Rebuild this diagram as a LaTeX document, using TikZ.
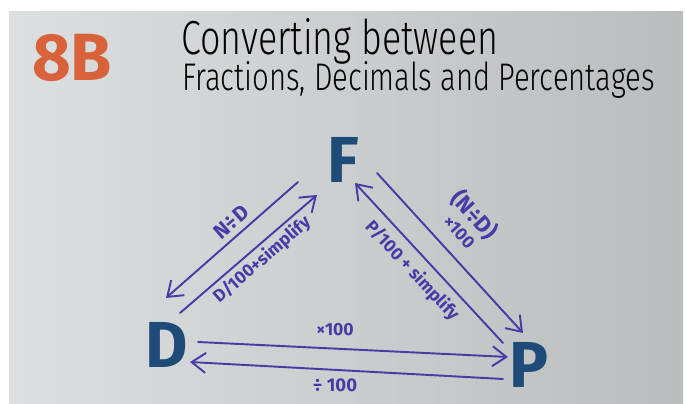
\documentclass[tikz,border=0pt]{standalone}
\usepackage{fontspec}
\setmainfont{Fira Sans}
\newfontfamily\thinfont{Fira Sans Light}
\usepackage{xcolor}
\usetikzlibrary{arrows.meta,positioning}
\definecolor{board}{HTML}{DCDFE0}
\definecolor{boarddark}{HTML}{BABDBE}
\definecolor{marker}{HTML}{4A3AA6}
\definecolor{letterblue}{HTML}{1F4B78}
\definecolor{eightb}{HTML}{D8623A}

\begin{document}
\begin{tikzpicture}[x=0.02cm,y=-0.02cm,
		conv/.style={line width=1.1pt,color=marker,line cap=round,
			-{Straight Barb[length=2.8mm,width=4mm,line width=1.1pt]}},
		lbl/.style={color=marker,inner sep=0pt,font=\bfseries\fontsize{10}{10}\selectfont},
		corner/.style={color=letterblue,inner sep=0pt,font=\bfseries\fontsize{37}{37}\selectfont}]
		
		% board
		\fill[white] (0,0) rectangle (686,404);
		\shade[left color=board,right color=boarddark] (9,12) rectangle (683,404);
		\useasboundingbox (0,0) rectangle (686,404);
		
		% heading
		\node[color=eightb,inner sep=0pt,font=\bfseries\fontsize{38}{38}\selectfont] (eightB)
		at (72,58) {8B};
		
		\node[anchor=base west,inner sep=0pt] (title1)
		at (181,55)
		{\resizebox{6.34cm}{0.72cm}{\thinfont Converting between}};
		
		\node[anchor=base west,inner sep=0pt] (title2)
		at (182,91)
		{\resizebox{9.45cm}{0.58cm}{\thinfont Fractions, Decimals and Percentages}};
		
		% corners
		\node[corner] (F) at (343,160) {F};
		\node[corner] (D) at (167,345) {D};
		\node[corner] (P) at (529,365) {P};
		
		% arrow ends
		\coordinate (fd1) at (298,182);
		\coordinate (fd2) at (166,298);
		\coordinate (df1) at (180,313);
		\coordinate (df2) at (317,195);
		\coordinate (fp1) at (377,173);
		\coordinate (fp2) at (523,333);
		\coordinate (pf1) at (503,343);
		\coordinate (pf2) at (355,183);
		\coordinate (dp1) at (198,342);
		\coordinate (dp2) at (508,357);
		\coordinate (pd1) at (503,379);
		\coordinate (pd2) at (190,362);
		
		\draw[conv] (fd1)--(fd2);
		\draw[conv] (df1)--(df2);
		\draw[conv] (fp1)--(fp2);
		\draw[conv] (pf1)--(pf2);
		\draw[conv] (dp1)--(dp2);
		\draw[conv] (pd1)--(pd2);
		
		% labels
		\node[lbl,rotate=41,font=\bfseries\fontsize{12}{12}\selectfont] (ndLeft)
		at (231,222) {N÷D};
		
		\node[lbl,rotate=41] (dSimplify)
		at (262,260) {D/100+simplify};
		
		\node[lbl,rotate=-48,font=\bfseries\fontsize{13}{13}\selectfont] (ndRight)
		at (474,215) {(N÷D)};
		
		\node[lbl,rotate=-48] (timesRight)
		at (459,232) {×100};
		
		\node[lbl,rotate=-47] (pSimplify)
		at (412,271) {P/100 + simplify};
		
		\node[lbl] (timesBottom)
		at (335,330) {×100};
		
		\node[lbl,font=\bfseries\fontsize{10.5}{10.5}\selectfont] (divBottom)
		at (335,385) {÷ 100};
		
	\end{tikzpicture}
\end{document}
